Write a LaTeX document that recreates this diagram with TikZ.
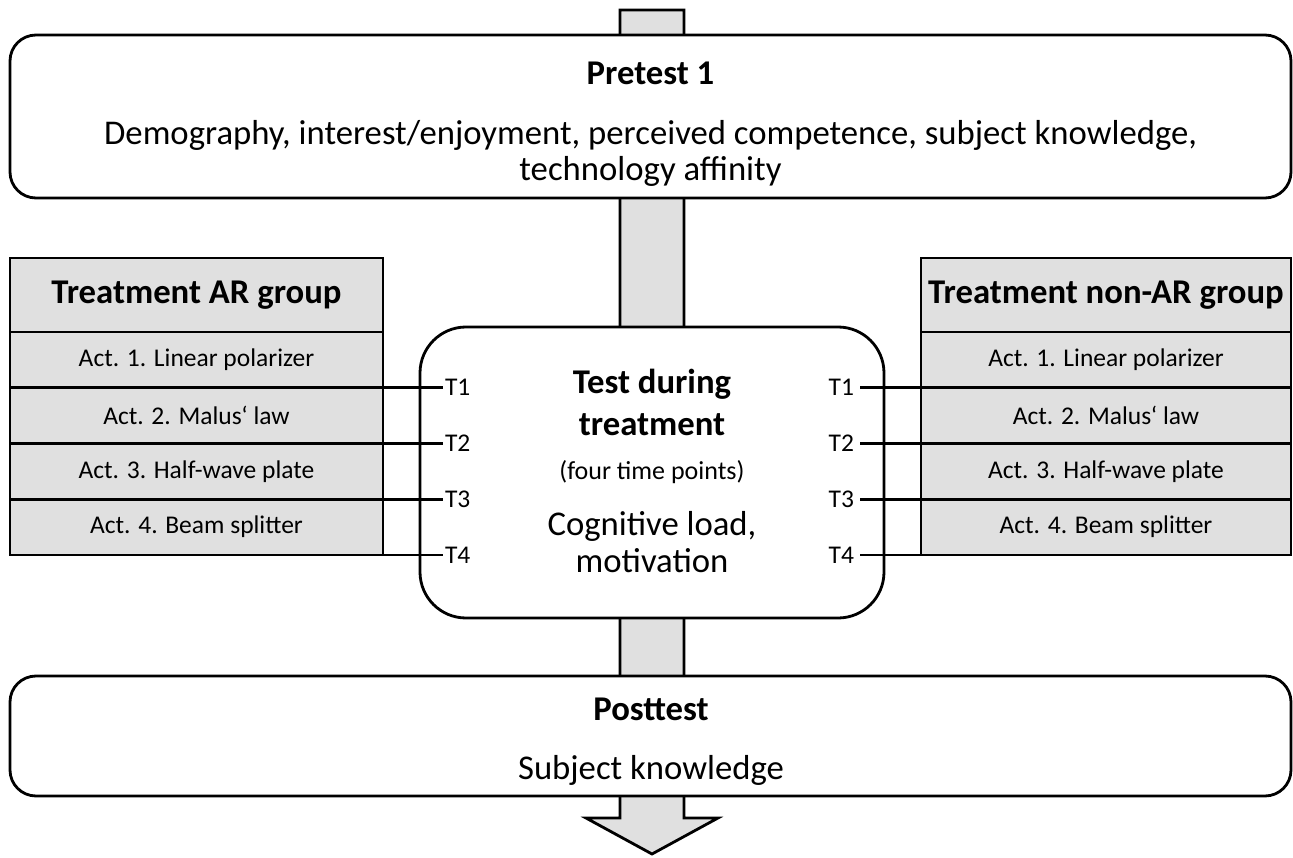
\documentclass[tikz,border=0pt]{standalone}
\usepackage{fontspec}
\setmainfont{Carlito}
\definecolor{shade}{RGB}{224,224,224}
\begin{document}
\begin{tikzpicture}[x=1pt,y=-1pt,line width=2.8pt,
  every node/.style={outer sep=0pt},
  stage/.style={draw, fill=white, rounded corners=26pt, inner sep=0pt},
  cell/.style={draw, fill=shade, inner sep=0pt, minimum height=55.75pt, font=\fontsize{25.5}{30}\selectfont},
  head/.style={draw, fill=shade, inner sep=0pt, minimum height=74pt, font=\bfseries\fontsize{34.7}{40}\selectfont},
  title/.style={font=\bfseries\fontsize{34.7}{40}\selectfont, inner sep=0pt, anchor=base},
  body/.style={font=\fontsize{34.7}{36}\selectfont, inner sep=0pt, align=center},
  tlab/.style={font=\fontsize{25.5}{30}\selectfont, inner ysep=2pt},
  link/.style={line width=2.8pt}]
\useasboundingbox (0,0) rectangle (1293,858);
% flow arrow behind everything
\draw[fill=shade, line join=miter] (620,10) -- (684,10) -- (684,818) -- (718,818) -- (652,854) -- (586,818) -- (620,818) -- cycle;
% pretest
\node[stage, minimum width=1281pt, minimum height=163pt] (pre) at (650.5,116.5) {};
\node[title] (pret) at (650.5,85) {Pretest 1};
\node[body] (preb) at (650.5,153) {Demography, interest/enjoyment, perceived competence, subject knowledge,\\technology affinity};
% posttest
\node[stage, minimum width=1281pt, minimum height=120pt] (post) at (650.5,736) {};
\node[title] (postt) at (651,720) {Posttest};
\node[body, anchor=base] (postb) at (651,779) {Subject knowledge};
% center
\node[draw, fill=white, rounded corners=46pt, minimum width=464pt, minimum height=291pt] (mid) at (652,472.5) {};
\node[font=\bfseries\fontsize{34.7}{42}\selectfont, align=center, inner sep=0pt] (midt) at (652,402) {Test during\\treatment};
\node[font=\fontsize{26}{30}\selectfont, inner sep=0pt, anchor=base] (midn) at (652,479) {(four time points)};
\node[font=\fontsize{34.7}{37}\selectfont, align=center, inner sep=0pt] (midb) at (652,542) {Cognitive load,\\motivation};
% left table
\node[head, minimum width=373pt] (LH) at (196.5,295) {Treatment AR group};
\node[cell, minimum width=373pt] (L1) at (196.5,359.875) {Act. 1. Linear polarizer};
\node[cell, minimum width=373pt] (L2) at (196.5,415.625) {Act. 2. Malus‘ law};
\node[cell, minimum width=373pt] (L3) at (196.5,471.375) {Act. 3. Half-wave plate};
\node[cell, minimum width=373pt] (L4) at (196.5,527.125) {Act. 4. Beam splitter};
% right table
\node[head, minimum width=370pt] (RH) at (1106,295) {Treatment non-AR group};
\node[cell, minimum width=370pt] (R1) at (1106,359.875) {Act. 1. Linear polarizer};
\node[cell, minimum width=370pt] (R2) at (1106,415.625) {Act. 2. Malus‘ law};
\node[cell, minimum width=370pt] (R3) at (1106,471.375) {Act. 3. Half-wave plate};
\node[cell, minimum width=370pt] (R4) at (1106,527.125) {Act. 4. Beam splitter};
% time point labels
\node[tlab, inner xsep=2pt, anchor=west] (TL1) at (443,387.75) {T1};
\node[tlab, inner xsep=2pt, anchor=west] (TL2) at (443,443.5) {T2};
\node[tlab, inner xsep=2pt, anchor=west] (TL3) at (443,499.25) {T3};
\node[tlab, inner xsep=2pt, anchor=west] (TL4) at (443,555) {T4};
\node[tlab, inner xsep=6pt, anchor=east] (TR1) at (860,387.75) {T1};
\node[tlab, inner xsep=6pt, anchor=east] (TR2) at (860,443.5) {T2};
\node[tlab, inner xsep=6pt, anchor=east] (TR3) at (860,499.25) {T3};
\node[tlab, inner xsep=6pt, anchor=east] (TR4) at (860,555) {T4};
% connectors
\draw[link] (L1.south east) -- (TL1.west);
\draw[link] (L2.south east) -- (TL2.west);
\draw[link] (L3.south east) -- (TL3.west);
\draw[link] (L4.south east) -- (TL4.west);
\draw[link] (TR1.east) -- (R1.south west);
\draw[link] (TR2.east) -- (R2.south west);
\draw[link] (TR3.east) -- (R3.south west);
\draw[link] (TR4.east) -- (R4.south west);
\end{tikzpicture}
\end{document}
